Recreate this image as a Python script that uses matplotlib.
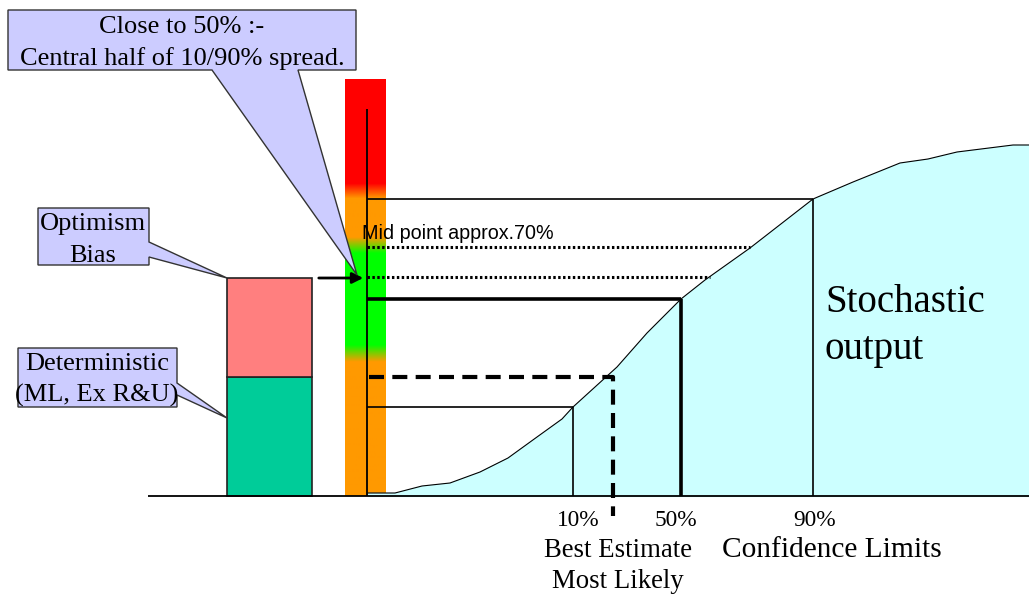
import numpy as np
import matplotlib
matplotlib.use("Agg")
from matplotlib import pyplot as plt

# diagram is laid out in pixel units of the original slide (y grows downward)
base_y = 496

# stochastic S-curve (cumulative output)
curve_x = [368, 395, 422, 450, 480, 508, 537, 562, 573, 617, 647, 681, 705, 750, 813, 853, 900, 928, 957, 1013, 1029]
curve_y = [493, 493, 486, 483, 472, 458, 437, 419, 407, 367, 333, 299, 280, 248, 199, 182, 163, 159, 152, 145, 145]

# confidence points on the curve
pct_labels = ["10%", "50%", "90%"]
pct_x = [573, 681, 813]
pct_y = [407, 299, 199]
pct_lw = [1.2, 2.6, 1.2]
pct_label_x = [578, 676, 815]

# best estimate (dashed)
best_x = 613
best_y = 377

# mid point dotted lines
mid_y = [247, 277]
mid_end = [750, 710]

# stacked bar: deterministic + optimism bias
det_top = 377
bias_top = 278

# colour bar stops (y position, colour)
stop_y = [79, 183, 198, 237, 253, 345, 362, 496]
stop_c = ["#FF0000", "#FF0000", "#FF9900", "#FF9900", "#00FF00", "#00FF00", "#FF9900", "#FF9900"]

serif = "Liberation Serif"
sans = "Liberation Sans"
callout_fc = "#CCCCFF"

fig = plt.figure(figsize=(10.29, 5.99), dpi=100)
ax = fig.add_axes([0, 0, 1, 1])
ax.set_xlim(0, 1029)
ax.set_ylim(599, 0)
ax.axis("off")

# gradient colour bar
ys = np.arange(79, 497)
rgb = np.array([matplotlib.colors.to_rgb(c) for c in stop_c])
grad = np.stack([np.interp(ys, stop_y, rgb[:, k]) for k in range(3)], axis=-1)[:, None, :]
ax.imshow(grad, extent=[345, 386, 496, 79], aspect="auto", zorder=1)

# curve
ax.fill_between(curve_x, curve_y, base_y, color="#CCFFFF", zorder=2)
ax.plot(curve_x, curve_y, color="black", lw=0.8, zorder=3)

# baseline and vertical axis
ax.hlines(base_y, 148, 1029, color="black", lw=1.3, zorder=4)
ax.vlines(367, 109, base_y, color="black", lw=1.3, zorder=4)

# percentile guide lines
for x, y, lw, lx, lab in zip(pct_x, pct_y, pct_lw, pct_label_x, pct_labels):
    ax.hlines(y, 367, x, color="black", lw=lw, zorder=4)
    ax.vlines(x, y, base_y, color="black", lw=lw, zorder=4)
    ax.text(lx, 526, lab, family=serif, fontsize=16.8, ha="center", va="baseline")

# best estimate dashed line
ax.plot([369, best_x, best_x], [best_y, best_y, 516], color="black", lw=3,
        linestyle=(0, (3.6, 2)), zorder=5)

# mid point dotted lines
for y, xe in zip(mid_y, mid_end):
    ax.hlines(y, 367, xe, color="black", lw=2.2, linestyles=[(0, (0.8, 0.8))], zorder=4)
ax.text(362, 239, "Mid point approx.70%", family=sans, fontsize=14.2, va="baseline", zorder=6)

# stacked bar
ax.bar(269.5, det_top - base_y, bottom=base_y, width=85, color="#00CC99",
       edgecolor="#222222", lw=1.2, zorder=3)
ax.bar(269.5, bias_top - det_top, bottom=det_top, width=85, color="#FF7F7F",
       edgecolor="#222222", lw=1.2, zorder=3)

# arrow from bar to axis
ax.annotate("", xy=(366, 278), xytext=(316, 278),
            arrowprops=dict(arrowstyle="-|>", color="black", lw=2, mutation_scale=16), zorder=6)

# callouts
callouts = [
    [(8, 10), (356, 10), (356, 70), (298, 70), (357, 275), (212, 70), (8, 70)],
    [(38, 208), (149, 208), (149, 242), (227, 278), (149, 257), (149, 265), (38, 265)],
    [(18, 348), (177, 348), (177, 383), (227, 418), (177, 395), (177, 407), (18, 407)],
]
for pts in callouts:
    ax.add_patch(plt.Polygon(pts, closed=True, fc=callout_fc, ec="#333333", lw=1, zorder=7))

ax.text(182, 33, "Close to 50% :-", family=serif, fontsize=19, ha="center", va="baseline", zorder=8)
ax.text(182, 65, "Central half of 10/90% spread.", family=serif, fontsize=19, ha="center", va="baseline", zorder=8)
ax.text(93, 230, "Optimism", family=serif, fontsize=19, ha="center", va="baseline", zorder=8)
ax.text(93, 262, "Bias", family=serif, fontsize=19, ha="center", va="baseline", zorder=8)
ax.text(97, 370, "Deterministic", family=serif, fontsize=19, ha="center", va="baseline", zorder=8)
ax.text(97, 402, "(ML, Ex R&U)", family=serif, fontsize=19, ha="center", va="baseline", zorder=8)

# bottom labels
ax.text(618, 557, "Best Estimate", family=serif, fontsize=19.3, ha="center", va="baseline")
ax.text(618, 588, "Most Likely", family=serif, fontsize=19.3, ha="center", va="baseline")
ax.text(832, 557, "Confidence Limits", family=serif, fontsize=21.2, ha="center", va="baseline")

ax.text(825, 312, "Stochastic", family=serif, fontsize=28, va="baseline", zorder=6)
ax.text(825, 359, "output", family=serif, fontsize=28, va="baseline", zorder=6)

fig.savefig("out.png", dpi=100)
